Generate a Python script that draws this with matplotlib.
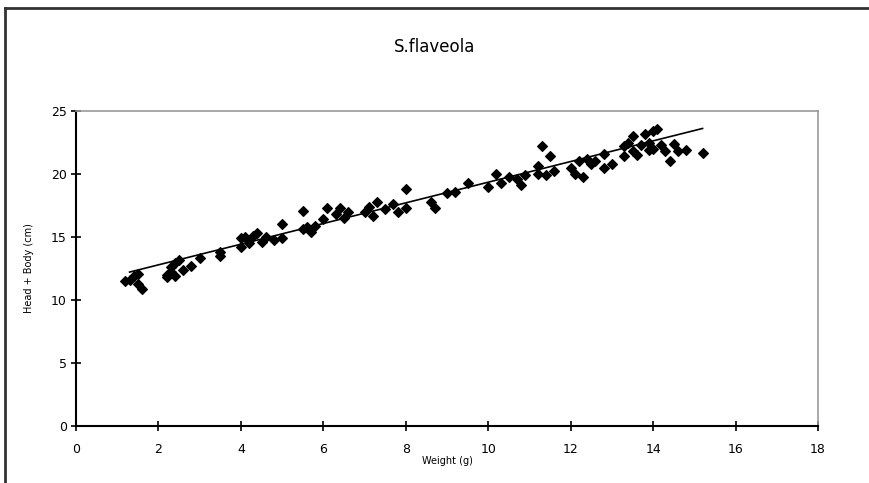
import numpy as np
import matplotlib
matplotlib.use("Agg")
import matplotlib.pyplot as plt
from matplotlib.lines import Line2D

# ── Data ──────────────────────────────────────────────────────────────────────
weight_g = [1.2, 1.3, 1.4, 1.5, 1.5, 1.6,
            2.2, 2.2, 2.3, 2.3, 2.4, 2.4, 2.5, 2.6, 2.8,
            3.0, 3.5, 3.5,
            4.0, 4.0, 4.1, 4.2, 4.3, 4.4, 4.5, 4.6, 4.8,
            5.0, 5.0, 5.5, 5.5, 5.6, 5.7, 5.8,
            6.0, 6.1, 6.3, 6.4, 6.5, 6.6,
            7.0, 7.1, 7.2, 7.3, 7.5, 7.7, 7.8, 8.0, 8.0,
            8.6, 8.7, 9.0, 9.2, 9.5,
            10.0, 10.2, 10.3, 10.5, 10.7, 10.8, 10.9,
            11.2, 11.2, 11.3, 11.4, 11.5, 11.6,
            12.0, 12.1, 12.2, 12.3, 12.4, 12.5, 12.6, 12.8, 12.8, 13.0,
            13.3, 13.3, 13.4, 13.5, 13.5, 13.6, 13.7, 13.8, 13.9, 13.9,
            14.0, 14.0, 14.1, 14.2, 14.3, 14.4, 14.5, 14.6, 14.8, 15.2]
length_cm = [11.5, 11.6, 11.9, 11.3, 12.1, 10.9,
             11.8, 12.0, 12.2, 12.6, 12.9, 11.9, 13.2, 12.4, 12.7,
             13.3, 13.5, 13.8,
             14.2, 14.9, 15.0, 14.5, 15.1, 15.3, 14.6, 15.0, 14.8,
             14.9, 16.0, 15.6, 17.1, 15.8, 15.4, 15.9,
             16.4, 17.3, 16.8, 17.3, 16.5, 17.0,
             17.0, 17.4, 16.7, 17.8, 17.2, 17.6, 17.0, 18.8, 17.3,
             17.8, 17.3, 18.5, 18.6, 19.3,
             19.0, 20.0, 19.3, 19.8, 19.6, 19.1, 19.9,
             20.0, 20.6, 22.2, 19.9, 21.4, 20.2,
             20.5, 20.0, 21.0, 19.8, 21.2, 20.8, 21.0, 20.5, 21.6, 20.8,
             21.4, 22.2, 22.5, 21.8, 23.0, 21.5, 22.3, 23.2, 22.5, 21.9,
             22.0, 23.4, 23.6, 22.3, 21.8, 21.0, 22.4, 21.8, 21.9, 21.7]

# trend line as drawn in the reference (start/end weight, intercept, slope)
trend_x = [1.3, 15.2]
trend_intercept = 11.15
trend_slope = 0.82

x_ticks = [0, 2, 4, 6, 8, 10, 12, 14, 16, 18]
y_ticks = [0, 5, 10, 15, 20, 25]

# ── Figure ────────────────────────────────────────────────────────────────────
W, H = 869, 483
fig = plt.figure(figsize=(W / 100, H / 100), dpi=100)
fig.patch.set_facecolor("white")

# outer chart border (runs off the right and bottom of the image)
fig.add_artist(Line2D([5 / W, 5 / W], [0, 1 - 8 / H], transform=fig.transFigure,
                      color="#333333", lw=2))
fig.add_artist(Line2D([5 / W, 1], [1 - 8 / H, 1 - 8 / H], transform=fig.transFigure,
                      color="#333333", lw=2))

ax = fig.add_axes([76 / W, 1 - 426 / H, (818 - 76) / W, (426 - 111) / H])
ax.set_xlim(0, 18)
ax.set_ylim(0, 25)

ax.scatter(weight_g, length_cm, marker="D", s=24, color="black", zorder=3)

xs = np.array(trend_x)
ax.plot(xs, trend_intercept + trend_slope * xs, color="black", lw=1.2, zorder=2)

ax.set_xticks(x_ticks)
ax.set_yticks(y_ticks)
ax.tick_params(direction="inout", length=7, width=1.2, labelsize=9, color="black")
ax.tick_params(axis="x", pad=9)
ax.tick_params(axis="y", pad=3)
for s in ["left", "bottom"]:
    ax.spines[s].set_color("black")
    ax.spines[s].set_linewidth(1.5)
for s in ["top", "right"]:
    ax.spines[s].set_color("#999999")
    ax.spines[s].set_linewidth(1.2)

ax.set_xlabel("Weight (g)", fontsize=7, labelpad=0)
ax.set_ylabel("Head + Body (cm)", fontsize=7, labelpad=12)

fig.text(435 / W, 1 - 47 / H, "S.flaveola", ha="center", va="center", fontsize=12)

plt.savefig("out.png", dpi=100, facecolor="white")
